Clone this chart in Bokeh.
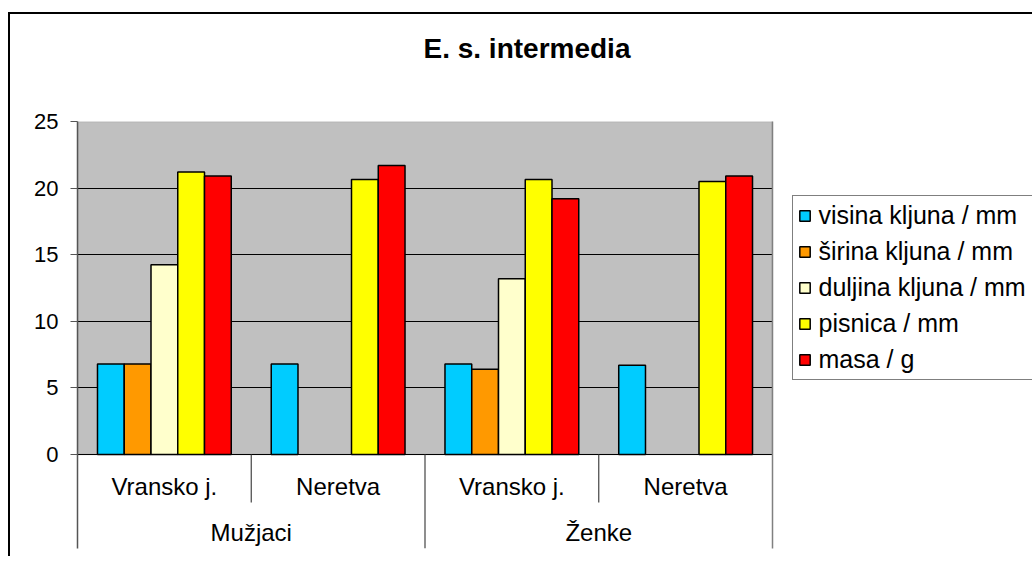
from bokeh.plotting import figure
from bokeh.models import (FactorRange, Range1d, BoxAnnotation, FixedTicker, LinearAxis,
                          Legend, LegendItem, ColumnDataSource, Title)
from bokeh.transform import dodge
from bokeh.core.properties import value
from bokeh.embed import file_html
from bokeh.resources import INLINE

# ---------------- data ----------------
title_text = "E. s. intermedia"
groups = ["Mužjaci", "Mužjaci", "Ženke", "Ženke"]
sites = ["Vransko j.", "Neretva", "Vransko j.", "Neretva"]
group_names = ["Mužjaci", "Ženke"]
series_names = ["visina kljuna / mm", "širina kljuna / mm", "duljina kljuna / mm",
                "pisnica / mm", "masa / g"]
nan = float("nan")
visina = [6.8, 6.8, 6.8, 6.7]
sirina = [6.8, nan, 6.4, nan]
duljina = [14.25, nan, 13.2, nan]
pisnica = [21.2, 20.65, 20.65, 20.5]
masa = [20.9, 21.7, 19.2, 20.9]
y_ticks = [0, 5, 10, 15, 20, 25]
colors = ["#00CCFF", "#FF9900", "#FFFFCC", "#FFFF00", "#FF0000"]

FONT = "Liberation Sans"
factors = list(zip(groups, sites))
y_max = 25
label_depth = 7.06   # depth of the category-label band below zero (in axis units)
sub_depth = 3.6

p = figure(
    x_range=FactorRange(*factors, factor_padding=0, group_padding=0, range_padding=0),
    y_range=Range1d(-label_depth, y_max),
    frame_width=695, frame_height=427,
    min_border_left=67, min_border_top=107, min_border_right=258, min_border_bottom=8,
    x_axis_location=None, title_location=None,
    output_backend="svg", toolbar_location=None,
)
p.margin = (12, 0, 0, 8)
p.styles = {"border-top": "2px solid black", "border-left": "2px solid black"}
p.background_fill_color = "white"
p.border_fill_color = "white"
p.outline_line_color = None

# gray plot area
p.add_layout(BoxAnnotation(bottom=0, top=y_max, fill_color="#C0C0C0", fill_alpha=1,
                           line_color="#808080", line_width=1.5, level="image"))

p.xgrid.visible = False
p.ygrid.ticker = FixedTicker(ticks=y_ticks)
p.ygrid.grid_line_color = "black"
p.ygrid.grid_line_width = 1

yax = p.yaxis[0]
yax.ticker = FixedTicker(ticks=y_ticks)
yax.axis_line_color = "#555555"
yax.axis_line_width = 1.5
yax.major_tick_line_color = "#555555"
yax.major_tick_out = 7
yax.major_tick_in = 0
yax.minor_tick_line_color = None
yax.major_label_text_font = FONT
yax.major_label_text_font_size = "22px"
yax.major_label_text_color = "black"
yax.major_label_standoff = 12

rax = LinearAxis(ticker=FixedTicker(ticks=[]), axis_line_color="#808080", axis_line_width=1.5,
                 major_tick_line_color=None, minor_tick_line_color=None,
                 major_label_text_font_size="0px", major_label_standoff=0,
                 major_tick_out=0, minor_tick_out=0)
p.add_layout(rax, "right")

# bars
src = ColumnDataSource(dict(x=factors, visina=visina, sirina=sirina, duljina=duljina,
                            pisnica=pisnica, masa=masa))
bw = 0.154
cols = ["visina", "sirina", "duljina", "pisnica", "masa"]
items = []
for i, (c, name, col) in enumerate(zip(cols, series_names, colors)):
    r = p.vbar(x=dodge("x", (i - 2) * bw, range=p.x_range), top=c, bottom=0, width=bw,
               source=src, fill_color=col, line_color="black", line_width=1.5)
    items.append(LegendItem(label=name, renderers=[r]))

# category separators & labels
sub_sep = ColumnDataSource(dict(f=[factors[0], factors[2]]))
p.segment(x0=dodge("f", 0.5, range=p.x_range), y0=0, x1=dodge("f", 0.5, range=p.x_range),
          y1=-sub_depth, source=sub_sep, line_color="#444444", line_width=1.2)
grp_sep = ColumnDataSource(dict(f=[factors[1]]))
p.segment(x0=dodge("f", 0.5, range=p.x_range), y0=0, x1=dodge("f", 0.5, range=p.x_range),
          y1=-label_depth, source=grp_sep, line_color="#444444", line_width=1.2)

p.text(x="f", y=-2.4, text="t", source=ColumnDataSource(dict(f=factors, t=sites)),
       text_align="center", text_baseline="middle", text_font=value(FONT),
       text_font_size="24px", text_color="black")
p.text(x="f", y=-5.85, text="t", source=ColumnDataSource(dict(f=group_names, t=group_names)),
       text_align="center", text_baseline="middle", text_font=value(FONT),
       text_font_size="24px", text_color="black")

legend = Legend(items=items, location=(-225, 168), border_line_color="black", border_line_width=1,
                label_text_font=FONT, label_text_font_size="25px", label_text_color="black",
                glyph_width=13, glyph_height=13, label_height=13, label_standoff=8,
                label_width=211, padding=5, spacing=7, margin=0,
                background_fill_color="white", background_fill_alpha=1)
p.add_layout(legend, "right")

# chart title: a blank spacer title next to the plot area, the real title above it
p.add_layout(Title(text=" ", text_font_size="1px", standoff=55), "above")
p.add_layout(Title(text=title_text, align="left", offset=346, standoff=0,
                   vertical_align="bottom", text_font=FONT, text_font_size="28px",
                   text_font_style="bold", text_color="black"), "above")

open("out.html", "w").write(file_html(p, INLINE))
